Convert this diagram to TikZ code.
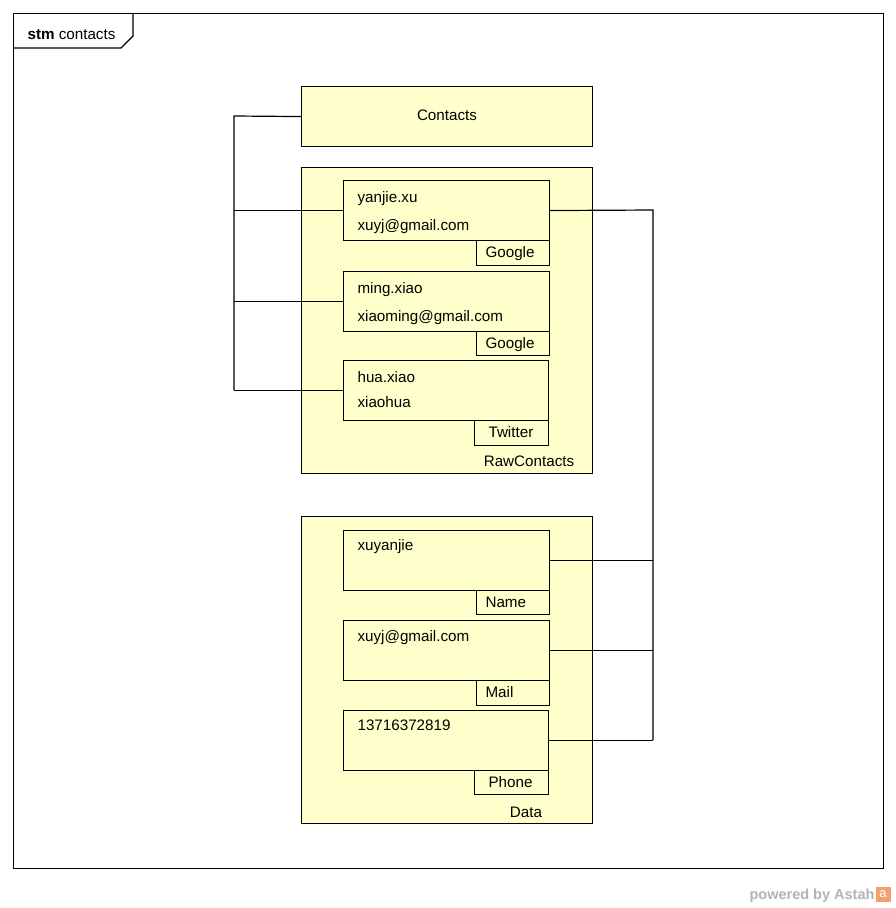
\documentclass[tikz,border=0pt]{standalone}
\usepackage{fontspec}
\setmainfont{Liberation Sans}
\definecolor{notefill}{HTML}{FFFFCC}
\definecolor{logogray}{HTML}{B4B4B4}
\definecolor{logoorange}{HTML}{F2A070}
\begin{document}
\begin{tikzpicture}[x=1pt,y=-1pt,
  line width=1.1pt,
  panel/.style={draw=black, fill=notefill, anchor=north west, inner sep=0pt},
  txt/.style={anchor=base west, inner sep=0pt, font=\fontsize{15.2}{18}\selectfont},
  ctxt/.style={anchor=base, inner sep=0pt, font=\fontsize{15.2}{18}\selectfont},
  wire/.style={draw=black, line width=1.2pt}]
\useasboundingbox (0,0) rectangle (896,908);
\fill[white] (0,0) rectangle (896,908);

% diagram frame with its name tab
\node[draw=black, anchor=north west, inner sep=0pt, minimum width=870pt, minimum height=855pt] (frame) at (13,13) {};
\draw (13,48) -- (121,48) -- (133,36) -- (133,13);
\node[txt] (framelabel) at (27,39) {\textbf{stm} contacts};

% Contacts
\node[panel, minimum width=291pt, minimum height=60pt] (contacts) at (301,86) {};
\node[ctxt] (contactsT) at (447,120) {Contacts};

% RawContacts container
\node[panel, minimum width=291pt, minimum height=306pt] (raw) at (301,167) {};
\node[ctxt] (rawT) at (529,466) {RawContacts};

\node[panel, minimum width=206pt, minimum height=60pt] (r1) at (343,180) {};
\node[panel, minimum width=73pt, minimum height=25pt] (r1tag) at (476,240) {};
\node[txt] at (357,202) {yanjie.xu};
\node[txt] at (357,230) {xuyj@gmail.com};
\node[txt] at (485,257) {Google};

\node[panel, minimum width=206pt, minimum height=60pt] (r2) at (343,271) {};
\node[panel, minimum width=73pt, minimum height=24pt] (r2tag) at (476,331) {};
\node[txt] at (357,293) {ming.xiao};
\node[txt] at (357,321) {xiaoming@gmail.com};
\node[txt] at (485,348) {Google};

\node[panel, minimum width=205pt, minimum height=60pt] (r3) at (343,360) {};
\node[panel, minimum width=74pt, minimum height=25pt] (r3tag) at (474,420) {};
\node[txt] at (357,382) {hua.xiao};
\node[txt] at (357,407) {xiaohua};
\node[txt] at (488,437) {Twitter};

% Data container
\node[panel, minimum width=291pt, minimum height=307pt] (data) at (301,516) {};
\node[ctxt] (dataT) at (526,817) {Data};

\node[panel, minimum width=206pt, minimum height=60pt] (d1) at (343,530) {};
\node[panel, minimum width=73pt, minimum height=24pt] (d1tag) at (476,590) {};
\node[txt] at (357,550) {xuyanjie};
\node[txt] at (485,607) {Name};

\node[panel, minimum width=206pt, minimum height=60pt] (d2) at (343,620) {};
\node[panel, minimum width=73pt, minimum height=25pt] (d2tag) at (476,680) {};
\node[txt] at (357,641) {xuyj@gmail.com};
\node[txt] at (485,697) {Mail};

\node[panel, minimum width=205pt, minimum height=60pt] (d3) at (343,710) {};
\node[panel, minimum width=74pt, minimum height=24pt] (d3tag) at (474,770) {};
\node[txt] at (357,730) {13716372819};
\node[txt] at (488,787) {Phone};

% left bus: Contacts to each raw contact
\coordinate (lt) at (234,116);
\coordinate (lb) at (234,390);
\draw[wire] (contacts.west) -- (lt) -- (lb);
\draw[wire] (r1.west) -- (r1.west -| lt);
\draw[wire] (r2.west) -- (r2.west -| lt);
\draw[wire] (r3.west) -- (r3.west -| lt);

% right bus: first raw contact to its data rows
\coordinate (rt) at (653,210);
\coordinate (rb) at (653,740);
\draw[wire] (r1.east) -- (rt) -- (rb);
\draw[wire] (d1.east) -- (d1.east -| rt);
\draw[wire] (d2.east) -- (d2.east -| rt);
\draw[wire] (d3.east) -- (d3.east -| rt);

% footer
\node[anchor=base east, inner sep=0pt, text=logogray, font=\fontsize{14.5}{16}\selectfont\bfseries] (footer) at (875,899) {powered by Astah};
\node[anchor=west, fill=logoorange, text=white, inner sep=0pt, minimum width=15pt, minimum height=15pt, font=\fontsize{13}{14}\selectfont] (logo) at (footer.east |- 0,894) {a};
\end{tikzpicture}
\end{document}
